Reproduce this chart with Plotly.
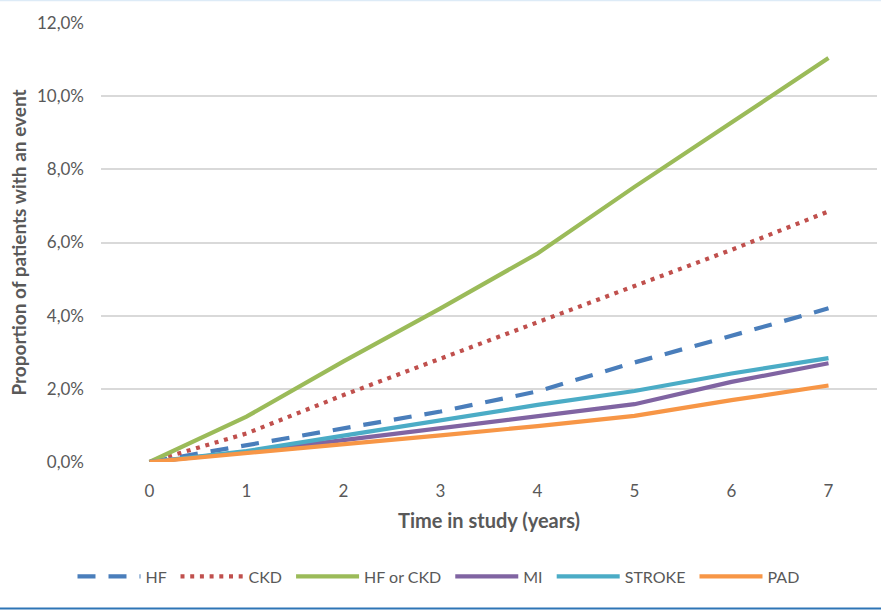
import plotly.graph_objects as go

# Cumulative proportion of patients with an event, by year in study
years = [0, 1, 2, 3, 4, 5, 6, 7]
hf = [0.0, 0.0046, 0.0094, 0.0138, 0.0193, 0.0272, 0.0345, 0.0420]
ckd = [0.0, 0.0078, 0.0183, 0.0284, 0.0382, 0.0481, 0.0580, 0.0685]
hf_or_ckd = [0.0, 0.0124, 0.0275, 0.0420, 0.0570, 0.0752, 0.0928, 0.1104]
mi = [0.0, 0.0028, 0.0060, 0.0093, 0.0127, 0.0158, 0.0219, 0.0270]
stroke = [0.0, 0.0030, 0.0072, 0.0114, 0.0156, 0.0194, 0.0242, 0.0284]
pad = [0.0, 0.0024, 0.0047, 0.0073, 0.0098, 0.0126, 0.0169, 0.0209]

series_names = ["HF", "CKD", "HF or CKD", "MI", "STROKE", "PAD"]
series_values = [hf, ckd, hf_or_ckd, mi, stroke, pad]
series_colors = ["#4A7EBB", "#C0504D", "#9BBB59", "#8064A2", "#4BACC6", "#F79646"]
series_dash = ["18px,13px", "4px,5.7px", "solid", "solid", "solid", "solid"]

y_ticks = [0, 0.02, 0.04, 0.06, 0.08, 0.10, 0.12]

FONT = "Lato, 'Open Sans', sans-serif"
GREY = "#595959"
NBSP = "\u00a0"

fig = go.Figure()
for name, vals, col, dash in zip(series_names, series_values, series_colors, series_dash):
    fig.add_trace(go.Scatter(
        x=years, y=vals, name=name + NBSP, mode="lines",
        line=dict(color=col, width=4.2, dash=dash),
        hoverinfo="x+y+name",
    ))

fig.update_layout(
    width=881, height=610,
    margin=dict(l=101, r=4, t=23, b=148),
    paper_bgcolor="white", plot_bgcolor="white",
    separators=",.",
    font=dict(family=FONT, size=16, color=GREY),
    showlegend=True,
    legend=dict(
        orientation="h", xref="container", yref="container",
        x=0.5, xanchor="center", y=0.055, yanchor="middle",
        font=dict(family=FONT, size=16, color=GREY),
        itemwidth=63, tracegroupgap=0, traceorder="normal",
        bgcolor="rgba(0,0,0,0)",
    ),
    xaxis=dict(
        range=[-0.5, 7.5], tickmode="array", tickvals=years,
        ticktext=[str(v) for v in years],
        showgrid=False, zeroline=False, showline=False, ticks="",
        ticklabelstandoff=17,
        tickfont=dict(family=FONT, size=17, color=GREY),
        title=dict(text="<b>Time in study (years)</b>",
                   font=dict(family=FONT, size=20, color=GREY), standoff=13),
        fixedrange=True,
    ),
    yaxis=dict(
        range=[0, 0.12], tickmode="array", tickvals=y_ticks, tickformat=".1%",
        showgrid=True, gridcolor="#D9D9D9", gridwidth=1.5,
        zeroline=False, showline=False, ticks="", ticklabelstandoff=16,
        tickfont=dict(family=FONT, size=17, color=GREY),
        title=dict(text="<b>Proportion of patients with an event</b>",
                   font=dict(family=FONT, size=19, color=GREY), standoff=5),
        fixedrange=True,
    ),
    shapes=[
        dict(type="line", xref="paper", yref="paper", x0=-0.2, x1=1.01,
             y0=1.0513, y1=1.0513, line=dict(color="#DDEBF7", width=1.5)),
        dict(type="line", xref="paper", yref="paper", x0=-0.2, x1=1.01,
             y0=-0.3337, y1=-0.3337, line=dict(color="#2E75B6", width=2)),
    ],
)

fig.write_html("out.html")
